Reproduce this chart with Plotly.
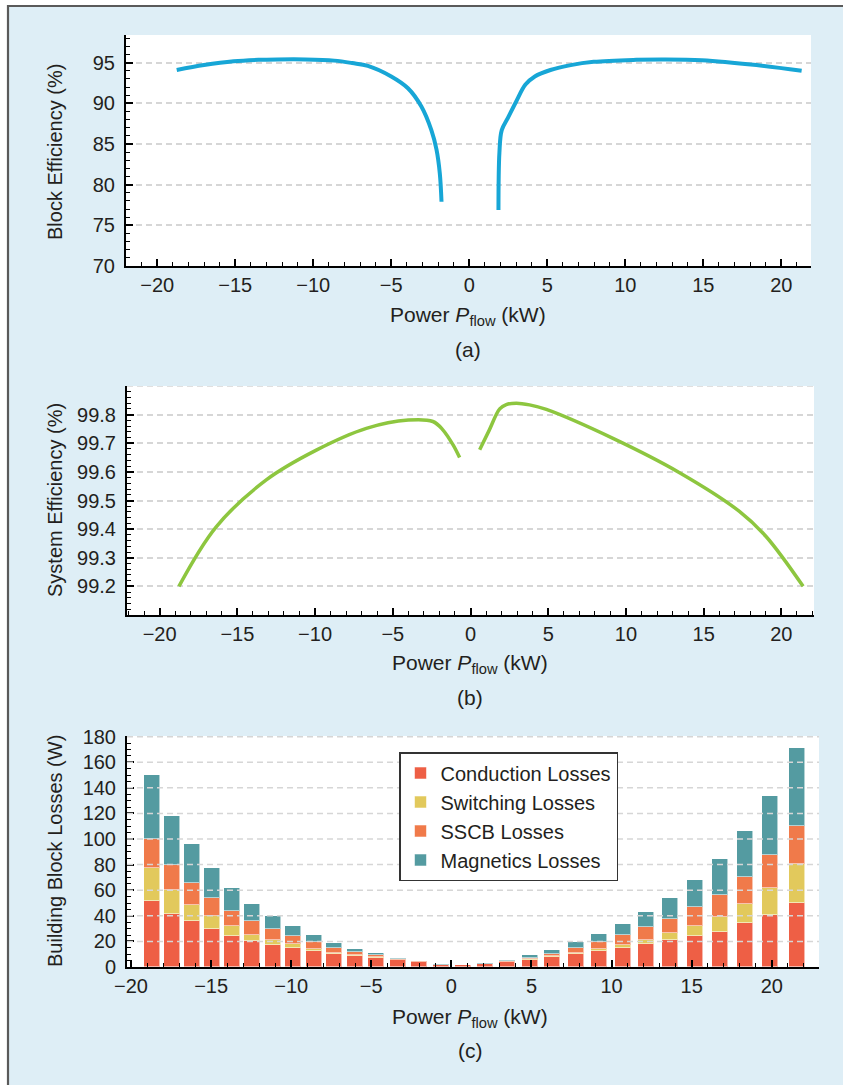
import plotly.graph_objects as go

W, H = 843, 1085

# ---------------- Panel (a): block efficiency ----------------
block_left_p = [-18.75, -17.0, -15.1, -13.5, -12.3, -10.5, -8.66, -7.5, -6.5, -5.0, -3.93, -3.07, -2.43, -2.1, -1.89, -1.78]
block_left_eff = [94.1, 94.7, 95.17, 95.35, 95.4, 95.4, 95.25, 94.95, 94.6, 93.3, 91.85, 89.6, 86.7, 84.3, 81.4, 77.9]
block_right_p = [1.87, 1.93, 2.08, 2.5, 3.0, 3.6, 4.2, 5.2, 6.5, 7.97, 10.7, 12.5, 14.9, 18.4, 21.3]
block_right_eff = [76.9, 83.9, 86.7, 88.3, 90.2, 92.3, 93.3, 94.1, 94.7, 95.1, 95.35, 95.4, 95.3, 94.7, 94.0]

# ---------------- Panel (b): system efficiency ----------------
sys_left_p = [-18.76, -16.36, -13.14, -9.92, -6.7, -4.0, -2.42, -1.78, -1.13, -0.70]
sys_left_eff = [99.2, 99.408, 99.572, 99.676, 99.752, 99.781, 99.776, 99.747, 99.695, 99.65]
sys_right_p = [0.59, 1.2, 1.88, 2.3, 2.95, 3.8, 4.88, 9.2, 13.45, 17.3, 19.0, 21.4]
sys_right_eff = [99.677, 99.745, 99.82, 99.835, 99.84, 99.834, 99.818, 99.716, 99.597, 99.462, 99.375, 99.2]

# ---------------- Panel (c): loss breakdown ----------------
bar_power = [-18.7, -17.45, -16.2, -14.95, -13.7, -12.45, -11.15, -9.9, -8.6, -7.35, -6.0, -4.7, -3.35, -2.0, -0.65,
             0.7, 2.1, 3.5, 4.9, 6.3, 7.75, 9.2, 10.7, 12.15, 13.65, 15.2, 16.75, 18.3, 19.9, 21.55]
conduction = [51.7, 41.8, 35.6, 29.9, 24.4, 20.0, 17.4, 15.1, 12.2, 9.9, 8.3, 6.8, 5.2, 3.6, 1.3,
              1.5, 2.3, 3.9, 5.7, 7.8, 9.9, 12.2, 15.1, 17.7, 20.8, 24.4, 27.5, 34.3, 40.8, 50.4]
switching = [25.7, 18.2, 13.2, 9.6, 7.3, 5.2, 3.9, 2.6, 2.1, 1.3, 1.1, 0.7, 0.5, 0.3, 0.1,
             0.05, 0.1, 0.2, 0.8, 0.5, 1.0, 1.8, 2.3, 3.6, 5.4, 7.5, 11.2, 15.1, 21.2, 30.1]
sscb = [22.6, 19.7, 17.2, 14.8, 11.9, 10.6, 8.3, 6.5, 4.9, 3.3, 2.3, 1.6, 0.8, 0.5, 0.2,
        0.15, 0.3, 0.6, 0.8, 2.1, 3.6, 5.2, 7.5, 9.9, 11.7, 14.9, 17.9, 21.2, 25.3, 29.9]
magnetics = [50.4, 38.2, 29.8, 23.1, 18.0, 13.6, 10.4, 7.7, 5.5, 4.5, 2.3, 1.8, 0.5, 0.5, 1.0,
             0.1, 0.7, 1.0, 1.8, 3.1, 4.7, 6.5, 8.9, 11.7, 16.1, 21.0, 27.6, 35.9, 46.2, 60.8]

loss_names = ["Conduction Losses", "Switching Losses", "SSCB Losses", "Magnetics Losses"]
loss_colors = ["#ee5f45", "#e2c95c", "#f07a4a", "#549ba1"]

eff_a_ticks = [70, 75, 80, 85, 90, 95]
eff_b_ticks = [99.2, 99.3, 99.4, 99.5, 99.6, 99.7, 99.8]
loss_ticks = [0, 20, 40, 60, 80, 100, 120, 140, 160, 180]
power_ticks = [-20, -15, -10, -5, 0, 5, 10, 15, 20]

FONT = "Liberation Sans, Arial, Helvetica, sans-serif"
TXT = "#231f20"
BLUE = "#17a6d6"
GREEN = "#8dc63f"
GRID = "#d6d6d6"


def px_x(p):
    return p / W


def px_y(p):
    return 1 - p / H


fig = go.Figure()

line_a = dict(color=BLUE, width=4, shape="spline", smoothing=1.0)
line_b = dict(color=GREEN, width=3.5, shape="spline", smoothing=1.0)
fig.add_trace(go.Scatter(x=block_left_p, y=block_left_eff, mode="lines", line=line_a, showlegend=False, xaxis="x", yaxis="y"))
fig.add_trace(go.Scatter(x=block_right_p, y=block_right_eff, mode="lines", line=line_a, showlegend=False, xaxis="x", yaxis="y"))
fig.add_trace(go.Scatter(x=sys_left_p, y=sys_left_eff, mode="lines", line=line_b, showlegend=False, xaxis="x2", yaxis="y2"))
fig.add_trace(go.Scatter(x=sys_right_p, y=sys_right_eff, mode="lines", line=line_b, showlegend=False, xaxis="x2", yaxis="y2"))
for name, vals, col in zip(loss_names, [conduction, switching, sscb, magnetics], loss_colors):
    fig.add_trace(go.Bar(x=bar_power, y=vals, name=name, width=1.0,
                         marker=dict(color=col, line=dict(color="rgba(255,255,255,0.55)", width=1)),
                         xaxis="x3", yaxis="y3"))

tickfont = dict(family=FONT, size=20, color=TXT)


def xaxis(domain, rng, anchor):
    return dict(domain=domain, range=rng, anchor=anchor, showline=True, linecolor="black", linewidth=2,
                ticks="inside", ticklen=7, tickwidth=1.5, tickcolor="black", tickvals=power_ticks,
                minor=dict(dtick=1, ticks="inside", ticklen=4, tickwidth=1.2, tickcolor="black", showgrid=False),
                showgrid=False, zeroline=False, tickfont=tickfont, ticklabelstandoff=0, automargin=False)


def yaxis(domain, rng, tickvals, minor, anchor, grid=True):
    return dict(domain=domain, range=rng, anchor=anchor, showline=True, linecolor="black", linewidth=2,
                ticks="inside", ticklen=7, tickwidth=1.5, tickcolor="black", tickvals=tickvals,
                minor=dict(dtick=minor, ticks="inside", ticklen=4, tickwidth=1.2, tickcolor="black", showgrid=False),
                showgrid=grid, gridcolor=GRID, gridwidth=1.5, griddash="6px,4px", zeroline=False,
                tickfont=tickfont, ticklabelstandoff=5, automargin=False)


xa = xaxis([px_x(126), px_x(811)], [-22.0, 21.9], "y")
xb = xaxis([px_x(127), px_x(814)], [-22.1, 22.1], "y2")
xc = xaxis([px_x(127), px_x(819)], [-20.25, 22.95], "y3")
ya = yaxis([px_y(266), px_y(35)], [70, 98.4], eff_a_ticks, 1, "x")
yb = yaxis([px_y(615), px_y(386)], [99.1, 99.9], eff_b_ticks, 0.02, "x2")
yc = yaxis([px_y(967), px_y(736)], [0, 180.5], loss_ticks, 5, "x3", grid=False)

grid_line = dict(color=GRID, width=1.5, dash="6px,4px")
shapes = []
# dashed top grid line of panel (b)
shapes.append(dict(type="line", xref="x2 domain", x0=0, x1=1, yref="y2", y0=99.9, y1=99.9, layer="below", line=grid_line))
# grid lines drawn above the bars in panel (c)
for v in loss_ticks[1:]:
    shapes.append(dict(type="line", xref="x3 domain", x0=0, x1=1, yref="y3", y0=v, y1=v, layer="above", line=grid_line))
# page frame (white outside, grey border on top and left)
shapes.append(dict(type="rect", xref="paper", yref="paper", x0=0, x1=px_x(7), y0=0, y1=1,
                   fillcolor="white", line=dict(width=0), layer="below"))
shapes.append(dict(type="rect", xref="paper", yref="paper", x0=0, x1=1, y0=px_y(5), y1=1,
                   fillcolor="white", line=dict(width=0), layer="below"))
shapes.append(dict(type="line", xref="paper", yref="paper", x0=px_x(8), x1=px_x(8), y0=0, y1=px_y(5),
                   line=dict(color="#5a5a5a", width=2.2)))
shapes.append(dict(type="line", xref="paper", yref="paper", x0=px_x(7), x1=1, y0=px_y(6), y1=px_y(6),
                   line=dict(color="#5a5a5a", width=2.2)))

ann = []
ytitle_font = dict(family=FONT, size=20, color=TXT)
xtitle_font = dict(family=FONT, size=21, color=TXT)
for text, yc_px in [("Block Efficiency (%)", 152), ("System Efficiency (%)", 500), ("Building Block Losses (W)", 851)]:
    ann.append(dict(text=text, xref="paper", yref="paper", x=px_x(55), y=px_y(yc_px), textangle=-90,
                    showarrow=False, xanchor="center", yanchor="middle", font=ytitle_font))
xtitle = "Power <i>P</i><sub>flow</sub> (kW)"
for xc_px, yt, cap, yc_cap in [(468, 316, "(a)", 350), (470, 664, "(b)", 698), (470, 1018, "(c)", 1050)]:
    ann.append(dict(text=xtitle, xref="paper", yref="paper", x=px_x(xc_px), y=px_y(yt), showarrow=False,
                    xanchor="center", yanchor="middle", font=xtitle_font))
    ann.append(dict(text=cap, xref="paper", yref="paper", x=px_x(xc_px), y=px_y(yc_cap), showarrow=False,
                    xanchor="center", yanchor="middle", font=xtitle_font))

fig.update_layout(
    width=W, height=H, margin=dict(l=0, r=0, t=0, b=0, autoexpand=False),
    paper_bgcolor="#deeef6", plot_bgcolor="white",
    font=dict(family=FONT, color=TXT),
    barmode="stack", bargap=0,
    xaxis=xa, yaxis=ya, xaxis2=xb, yaxis2=yb, xaxis3=xc, yaxis3=yc,
    shapes=shapes, annotations=ann,
    legend=dict(x=px_x(399), y=px_y(752), xanchor="left", yanchor="top", bgcolor="white",
                bordercolor="#333333", borderwidth=1.5, font=dict(family=FONT, size=20, color=TXT),
                traceorder="normal", tracegroupgap=0, itemwidth=30),
)

fig.write_html("out.html", config={"displayModeBar": False},
               post_script="document.body.style.margin='0';document.body.style.overflow='hidden';")
